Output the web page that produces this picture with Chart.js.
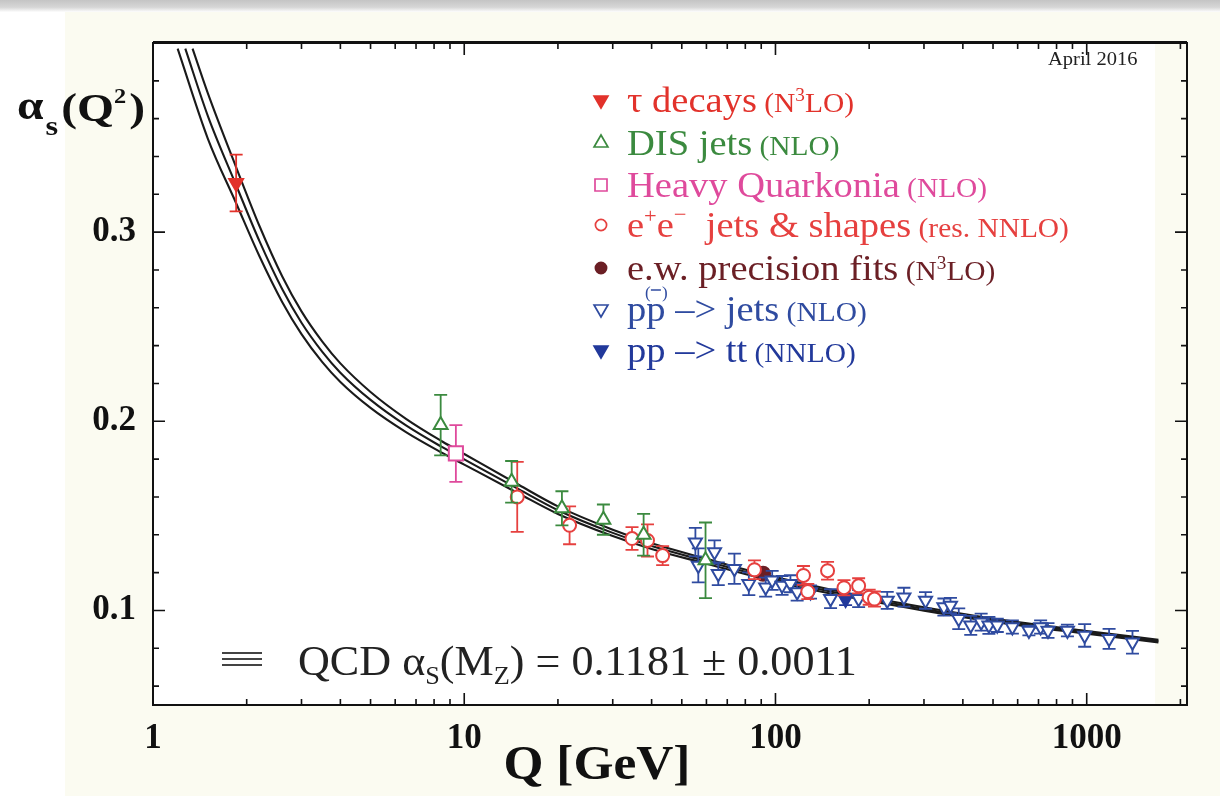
<!DOCTYPE html>
<html><head><meta charset="utf-8">
<script src="https://cdn.jsdelivr.net/npm/chart.js@4.4.1/dist/chart.umd.min.js"></script>
<style>
html,body{margin:0;padding:0;background:#fff;}
canvas{display:block;}
</style></head><body>
<canvas id="c" width="1220" height="796"></canvas>
<script>
// ---------- data ----------
const xTickValues = [1, 10, 100, 1000];
const xMinorTicks = [2,3,4,5,6,7,8,9,20,30,40,50,60,70,80,90,200,300,400,500,600,700,800,900,2000];
const yTickValues = [0.1, 0.2, 0.3];
const yMinorTicks = [0.06,0.08,0.12,0.14,0.16,0.18,0.22,0.24,0.26,0.28,0.32,0.34,0.36,0.38];

// QCD running curve: central and +/- band
const curveMidQ  = [1.27, 1.5, 1.85, 2.2, 2.6, 3.0, 3.5, 4.0, 5.0, 6.5, 8.5, 10, 15, 20, 30, 40, 60, 91.2, 150, 300, 500, 1000, 1700];
const curveMid   = [0.397, 0.3615, 0.3248, 0.2951, 0.2699, 0.2521, 0.2367, 0.2257, 0.2113, 0.1978, 0.1863, 0.1799, 0.164, 0.153, 0.141, 0.134, 0.126, 0.118, 0.110, 0.1008, 0.0949, 0.0884, 0.0838];
const curveHiQ   = [1.34, 1.5, 1.85, 2.2, 2.6, 3.0, 3.5, 4.0, 5.0, 6.5, 8.5, 10, 15, 20, 30, 40, 60, 91.2, 150, 300, 500, 1000, 1700];
const curveHi    = [0.397, 0.3735, 0.3343, 0.3031, 0.2767, 0.2581, 0.2421, 0.2306, 0.2155, 0.2013, 0.1893, 0.1827, 0.1663, 0.155, 0.1427, 0.1355, 0.1273, 0.1192, 0.1111, 0.1017, 0.0957, 0.0891, 0.0845];
const curveLoQ   = [1.20, 1.5, 1.85, 2.2, 2.6, 3.0, 3.5, 4.0, 5.0, 6.5, 8.5, 10, 15, 20, 30, 40, 60, 91.2, 150, 300, 500, 1000, 1700];
const curveLo    = [0.397, 0.3495, 0.3153, 0.2871, 0.2631, 0.2461, 0.2313, 0.2208, 0.2071, 0.1943, 0.1833, 0.1771, 0.1617, 0.151, 0.1393, 0.1325, 0.1247, 0.1168, 0.1089, 0.0999, 0.0941, 0.0877, 0.0831];

// tau decays
const tauQ = [1.85];
const tauA = [0.326];
const tauE = [0.015];
// DIS jets
const disQ = [8.4, 14.2, 20.6, 28.0, 37.7, 59.6];
const disA = [0.198, 0.168, 0.154, 0.148, 0.140, 0.1265];
const disE = [0.016, 0.011, 0.009, 0.008, 0.011, 0.020];
// Heavy quarkonia
const hqQ = [9.4];
const hqA = [0.183];
const hqE = [0.015];
// e+e- jets & shapes
const eeQ = [14.8, 21.8, 34.6, 38.8, 43.4, 85.6, 123, 127, 147, 166, 185, 200, 208];
const eeA = [0.160, 0.145, 0.138, 0.137, 0.129, 0.1215, 0.1185, 0.110, 0.121, 0.112, 0.113, 0.107, 0.106];
const eeE = [0.0185, 0.010, 0.006, 0.0085, 0.005, 0.005, 0.005, 0.004, 0.0047, 0.004, 0.004, 0.004, 0.004];
// e.w. precision fits
const ewQ = [91.2];
const ewA = [0.1194];
const ewE = [0.0015];
// pp(bar) -> jets
const ppQ = [55.3, 56.5, 63.7, 65.5, 73.8, 82.1, 93, 97.6, 105, 111.7, 117.4, 129.6, 150.3, 185, 228.6, 258.6, 303.5, 347.6, 365, 388, 424, 458, 485, 516, 577, 652, 711, 751, 867, 985, 1180, 1403];
const ppA = [0.1361, 0.1238, 0.1309, 0.1194, 0.1220, 0.1141, 0.1123, 0.1159, 0.1132, 0.1141, 0.1097, 0.1097, 0.1062, 0.1062, 0.1053, 0.107, 0.1053, 0.1018, 0.1026, 0.0956, 0.0921, 0.0938, 0.0921, 0.0921, 0.0912, 0.0894, 0.0912, 0.0894, 0.0894, 0.0868, 0.085, 0.0832];
const ppE = [0.0075, 0.009, 0.0061, 0.006, 0.008, 0.006, 0.005, 0.005, 0.005, 0.0045, 0.0045, 0.0035, 0.005, 0.0045, 0.0045, 0.005, 0.0044, 0.0045, 0.004, 0.0055, 0.005, 0.0045, 0.0045, 0.0035, 0.0035, 0.0026, 0.0035, 0.0039, 0.0031, 0.006, 0.0053, 0.006];
// pp -> tt
const ttQ = [168];
const ttA = [0.1058];
const ttE = [0.003];

// ---------- styling ----------
const FONT = "'Liberation Serif', 'Times New Roman', serif";
const C_TAU = '#e2322b', C_DIS = '#3b8a3f', C_HQ = '#df4a9c', C_EE = '#e6403f', C_EW = '#6b1f25', C_PP = '#2f4ba0', C_TT = '#22399b';

function pts(q, a) { return q.map((v, i) => ({ x: v, y: a[i] })); }

function curveDs(q, a) {
  return { type: 'line', data: pts(q, a), borderColor: '#1a1a1a', borderWidth: 2.1, pointRadius: 0,
           fill: false, cubicInterpolationMode: 'monotone', order: 10, clip: false };
}
function dataDs(q, a, e, color, style, rot, filled, r) {
  return { type: 'scatter', data: pts(q, a), err: e, errColor: color,
           pointStyle: style, rotation: rot, pointRotation: rot, pointRadius: r, pointHoverRadius: r,
           pointBorderWidth: 2, borderColor: color, pointBorderColor: color,
           backgroundColor: filled ? color : '#ffffff', pointBackgroundColor: filled ? color : '#ffffff',
           showLine: false, order: 1 };
}

const errPlugin = {
  id: 'errbars',
  beforeDatasetDraw(chart, args) {
    const ds = chart.data.datasets[args.index];
    if (!ds.err) return;
    const ctx = chart.ctx, xs = chart.scales.x, ys = chart.scales.y;
    ctx.save();
    ctx.strokeStyle = ds.errColor; ctx.lineWidth = 1.8;
    ds.data.forEach((p, i) => {
      const e = ds.err[i];
      const px = xs.getPixelForValue(p.x);
      const y1 = ys.getPixelForValue(p.y + e), y2 = ys.getPixelForValue(p.y - e);
      ctx.beginPath();
      ctx.moveTo(px, y1); ctx.lineTo(px, y2);
      ctx.moveTo(px - 6.5, y1); ctx.lineTo(px + 6.5, y1);
      ctx.moveTo(px - 6.5, y2); ctx.lineTo(px + 6.5, y2);
      ctx.stroke();
    });
    ctx.restore();
  }
};

const bgPlugin = {
  id: 'bg',
  beforeDraw(chart) {
    const ctx = chart.ctx, a = chart.chartArea;
    ctx.save();
    ctx.fillStyle = '#ffffff'; ctx.fillRect(0, 0, chart.width, chart.height);
    ctx.fillStyle = '#fbfbf1'; ctx.fillRect(65, 10, chart.width - 65, chart.height - 10);
    const g = ctx.createLinearGradient(0, 0, 0, 12);
    g.addColorStop(0, '#c4c4c4'); g.addColorStop(0.6, '#d6d6d6'); g.addColorStop(1, '#fdfdfd');
    ctx.fillStyle = g; ctx.fillRect(0, 0, chart.width, 12);
    ctx.fillStyle = '#ffffff'; ctx.fillRect(a.left, a.top, 1155 - a.left, a.bottom - a.top);
    ctx.restore();
  }
};

function drawMarker(ctx, x, y, style, color, filled, r) {
  ctx.save();
  ctx.strokeStyle = color; ctx.fillStyle = filled ? color : '#ffffff'; ctx.lineWidth = 1.7;
  ctx.beginPath();
  if (style === 'tri-up' || style === 'tri-down') {
    const s = style === 'tri-up' ? -1 : 1;
    ctx.moveTo(x, y + s * r);
    ctx.lineTo(x - r * 0.866, y - s * r * 0.5);
    ctx.lineTo(x + r * 0.866, y - s * r * 0.5);
    ctx.closePath();
  } else if (style === 'square') {
    ctx.rect(x - r * 0.75, y - r * 0.75, r * 1.5, r * 1.5);
  } else {
    ctx.arc(x, y, r * 0.7, 0, Math.PI * 2);
  }
  ctx.fill(); ctx.stroke();
  ctx.restore();
}

// draw a run of text parts, optionally stretched horizontally by sx
function rich(ctx, x, y, parts, color, sx) {
  sx = sx || 1;
  ctx.fillStyle = color;
  for (const p of parts) {
    ctx.font = (p.b ? 'bold ' : '') + p.s + 'px ' + FONT;
    ctx.save();
    ctx.translate(x, y - (p.dy || 0));
    ctx.scale(sx, 1);
    ctx.fillText(p.t, 0, 0);
    ctx.restore();
    x += ctx.measureText(p.t).width * sx;
  }
  return x;
}

const textPlugin = {
  id: 'texts',
  afterDraw(chart) {
    const ctx = chart.ctx, a = chart.chartArea, xs = chart.scales.x, ys = chart.scales.y;
    ctx.save();
    // frame
    ctx.strokeStyle = '#111'; ctx.lineWidth = 2;
    ctx.strokeRect(a.left, a.top, a.right - a.left, a.bottom - a.top);
    ctx.beginPath(); ctx.moveTo(a.left, a.top - 1); ctx.lineTo(a.right, a.top - 1); ctx.stroke();
    // inward ticks
    ctx.lineWidth = 1.6; ctx.beginPath();
    const yt = (v, len) => { const p = ys.getPixelForValue(v);
      ctx.moveTo(a.left, p); ctx.lineTo(a.left + len, p); ctx.moveTo(a.right, p); ctx.lineTo(a.right - len, p); };
    const xt = (v, len) => { const p = xs.getPixelForValue(v);
      ctx.moveTo(p, a.bottom); ctx.lineTo(p, a.bottom - len); ctx.moveTo(p, a.top); ctx.lineTo(p, a.top + len); };
    yTickValues.forEach(v => yt(v, 12)); yMinorTicks.forEach(v => yt(v, 6));
    xTickValues.slice(1).forEach(v => xt(v, 12)); xMinorTicks.forEach(v => xt(v, 6));
    ctx.stroke();

    ctx.textBaseline = 'alphabetic'; ctx.textAlign = 'left';
    // y title
    const TS = 1.16;
    let x = rich(ctx, 17, 119, [{ t: 'α', s: 41, b: true }], '#111', TS);
    x = rich(ctx, x + 2, 135, [{ t: 's', s: 28, b: true }], '#111', TS);
    x = rich(ctx, x + 3, 121, [{ t: '(Q', s: 41, b: true }], '#111', TS);
    x = rich(ctx, x, 103, [{ t: '2', s: 21, b: true }], '#111', TS);
    rich(ctx, x + 3, 121, [{ t: ')', s: 41, b: true }], '#111', TS);

    // x title
    ctx.font = 'bold 48px ' + FONT;
    const wt = ctx.measureText('Q [GeV]').width * 1.07;
    rich(ctx, 597 - wt / 2, 779, [{ t: 'Q [GeV]', s: 48, b: true }], '#111', 1.07);

    // April 2016
    rich(ctx, 1048, 65, [{ t: 'April 2016', s: 19 }], '#222', 1.08);

    // legend
    const R = 36, P = 27.5, S = 18, LX = 627, MX = 601, LS = 1.07;
    const rows = [
      { y: 100, m: 'tri-down', f: true, c: C_TAU, parts: [{ t: 'τ decays', s: R }, { t: ' (N', s: P }, { t: '3', s: S, dy: 11 }, { t: 'LO)', s: P }] },
      { y: 143, m: 'tri-up', f: false, c: C_DIS, parts: [{ t: 'DIS jets', s: R }, { t: ' (NLO)', s: P }] },
      { y: 185, m: 'square', f: false, c: C_HQ, parts: [{ t: 'Heavy Quarkonia', s: R }, { t: ' (NLO)', s: P }] },
      { y: 225, m: 'circle', f: false, c: C_EE, parts: [{ t: 'e', s: R }, { t: '+', s: 21, dy: 14 }, { t: 'e', s: R }, { t: '−', s: 21, dy: 16 }, { t: '  jets & shapes', s: R }, { t: ' (res. NNLO)', s: P }] },
      { y: 268, m: 'circle', f: true, c: C_EW, parts: [{ t: 'e.w. precision fits', s: R }, { t: ' (N', s: P }, { t: '3', s: S, dy: 11 }, { t: 'LO)', s: P }] },
      { y: 309, m: 'tri-down', f: false, c: C_PP, parts: [{ t: 'pp', s: R }, { t: ' –> jets', s: R }, { t: ' (NLO)', s: P }] },
      { y: 350, m: 'tri-down', f: true, c: C_TT, parts: [{ t: 'pp –> tt', s: R }, { t: ' (NNLO)', s: P }] }
    ];
    rows.forEach((r, i) => {
      drawMarker(ctx, MX, r.y, r.m, r.c, r.f, 8);
      rich(ctx, LX, r.y + 12, r.parts, r.c, LS);
      if (i === 5) {
        // (‾) over the second p
        ctx.font = R + 'px ' + FONT;
        const w1 = ctx.measureText('p').width * LS;
        const cx = LX + w1 + w1 / 2;
        rich(ctx, cx - 11, r.y - 11, [{ t: '(', s: 17 }], r.c, 1);
        rich(ctx, cx + 6, r.y - 11, [{ t: ')', s: 17 }], r.c, 1);
        ctx.strokeStyle = r.c; ctx.lineWidth = 1.5;
        ctx.beginPath(); ctx.moveTo(cx - 5, r.y - 19); ctx.lineTo(cx + 5, r.y - 19); ctx.stroke();
      }
    });

    // QCD band label
    ctx.strokeStyle = '#444'; ctx.lineWidth = 1.8;
    ctx.beginPath();
    [653, 659, 665].forEach(yy => { ctx.moveTo(222, yy); ctx.lineTo(262, yy); });
    ctx.stroke();
    const BS = 1.05;
    x = rich(ctx, 298, 675, [{ t: 'QCD α', s: 42 }], '#222', BS);
    x = rich(ctx, x, 684, [{ t: 'S', s: 25 }], '#222', BS);
    x = rich(ctx, x, 675, [{ t: '(M', s: 42 }], '#222', BS);
    x = rich(ctx, x, 684, [{ t: 'Z', s: 25 }], '#222', BS);
    rich(ctx, x, 675, [{ t: ') = 0.1181 ± 0.0011', s: 42 }], '#222', BS);
    ctx.restore();
  }
};

const datasets = [
  curveDs(curveHiQ, curveHi),
  curveDs(curveMidQ, curveMid),
  curveDs(curveLoQ, curveLo),
  dataDs(disQ, disA, disE, C_DIS, 'triangle', 0, false, 8),
  dataDs(hqQ, hqA, hqE, C_HQ, 'rect', 0, false, 10),
  dataDs(eeQ, eeA, eeE, C_EE, 'circle', 0, false, 6.5),
  dataDs(ppQ, ppA, ppE, C_PP, 'triangle', 180, false, 7.5),
  dataDs(ttQ, ttA, ttE, C_TT, 'triangle', 180, true, 7.5),
  dataDs(ewQ, ewA, ewE, C_EW, 'circle', 0, true, 7),
  dataDs(tauQ, tauA, tauE, C_TAU, 'triangle', 180, true, 8)
];

new Chart(document.getElementById('c'), {
  type: 'scatter',
  data: { datasets },
  options: {
    responsive: false, animation: false, devicePixelRatio: 1,
    layout: { padding: { left: 0, top: 43, right: 33, bottom: 0 } },
    plugins: { legend: { display: false }, tooltip: { enabled: false } },
    scales: {
      x: {
        type: 'logarithmic', min: 1, max: 2100,
        afterBuildTicks: s => { s.ticks = xTickValues.map(v => ({ value: v })); },
        afterFit: s => { s.height = 91; },
        grid: { display: false, drawTicks: false }, border: { display: false },
        ticks: { callback: v => String(v), autoSkip: false, maxRotation: 0, padding: 13, color: '#111',
                 font: { family: FONT, size: 35, weight: 'bold' } }
      },
      y: {
        type: 'linear', min: 0.05, max: 0.4,
        afterBuildTicks: s => { s.ticks = yTickValues.map(v => ({ value: v })); },
        afterFit: s => { s.width = 153; },
        grid: { display: false, drawTicks: false }, border: { display: false },
        ticks: { callback: v => v.toFixed(1), padding: 17, color: '#111',
                 font: { family: FONT, size: 35, weight: 'bold' } }
      }
    }
  },
  plugins: [bgPlugin, errPlugin, textPlugin]
});
</script>
</body></html>
